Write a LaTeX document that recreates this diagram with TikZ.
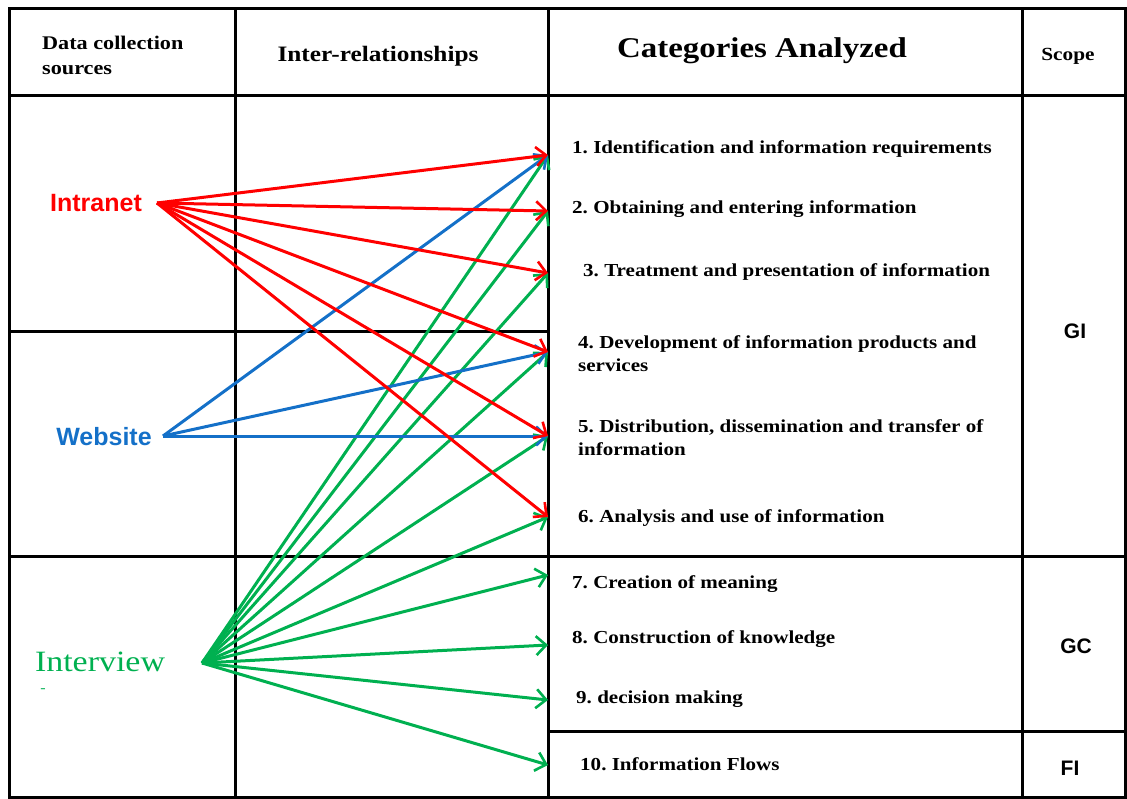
\documentclass[tikz,border=0pt]{standalone}
\usepackage{fontspec}
\setmainfont{Liberation Serif}[FakeStretch=1.15]
\newfontfamily\arialfont{Liberation Sans}
\usetikzlibrary{positioning,arrows.meta}

\definecolor{intrared}{RGB}{255,0,0}
\definecolor{webblue}{RGB}{20,112,200}
\definecolor{intgreen}{RGB}{0,176,80}

\begin{document}
\frenchspacing
\begin{tikzpicture}[x=1pt,y=-1pt,
    grid/.style={line width=3pt, black},
    flow/.style={line width=3pt, -{Straight Barb[length=10pt,width=19pt,line width=2.6pt]}},
    head/.style={font=\bfseries\fontsize{18}{20}\selectfont, inner sep=0pt},
    cat/.style={anchor=west, align=left, inner sep=0pt, font=\bfseries\fontsize{18.3}{23}\selectfont},
    src/.style={font=\arialfont\bfseries\fontsize{25}{27}\selectfont, inner sep=0pt},
    scope/.style={font=\arialfont\bfseries\fontsize{21}{23}\selectfont, inner sep=0pt}]
\useasboundingbox (0,0) rectangle (1127,799);

% table lines
\draw[grid] (9,9) rectangle (1125,797);
\draw[grid] (235,9) -- (235,797);
\draw[grid] (548,9) -- (548,797);
\draw[grid] (1022,9) -- (1022,797);
\draw[grid] (9,96) -- (1125,96);
\draw[grid] (9,332) -- (548,332);
\draw[grid] (9,556) -- (1125,556);
\draw[grid] (548,731) -- (1125,731);

% header
\node[head, anchor=west, align=left, font=\bfseries\fontsize{19.3}{25}\selectfont] (hsrc) at (42,55) {Data collection\\sources};
\node[head, font=\bfseries\fontsize{22}{24}\selectfont] (hrel) at (378,56) {Inter-relationships};
\node[head, font=\bfseries\fontsize{28.6}{30}\selectfont] (hcat) at (762,51) {Categories Analyzed};
\node[head, font=\bfseries\fontsize{18.5}{20}\selectfont] (hscope) at (1068,56) {Scope};

% sources
\node[src, text=intrared] (intranet) at (96,203) {Intranet};
\node[src, text=webblue] (website) at (104,437) {Website};
\node[inner sep=0pt, text=intgreen, font=\fontsize{29.5}{31}\selectfont] (interview) at (100,662) {Interview};
\node[inner sep=0pt, text=intgreen, font=\fontsize{14}{16}\selectfont] (dash) at (43,691) {-};
\coordinate (pin) at (157,203);
\coordinate (pweb) at (163,436);
\coordinate (pint) at (202,663);

% categories
\node[cat] (c1) at (572,149) {1. Identification and information requirements};
\node[cat] (c2) at (572,209) {2. Obtaining and entering information};
\node[cat] (c3) at (583,272) {3. Treatment and presentation of information};
\node[cat] (c4) at (578,354) {4. Development of information products and\\services};
\node[cat] (c5) at (578,438) {5. Distribution, dissemination and transfer of\\information};
\node[cat] (c6) at (578,518) {6. Analysis and use of information};
\node[cat] (c7) at (572,584) {7. Creation of meaning};
\node[cat] (c8) at (572,639) {8. Construction of knowledge};
\node[cat] (c9) at (576,699) {9. decision making};
\node[cat] (c10) at (580,764) {10. Information Flows};

% scope
\node[scope] (gi) at (1075,331) {GI};
\node[scope] (gc) at (1076,646) {GC};
\node[scope] (fi) at (1070,768) {FI};

% arrow ends on the category border
\coordinate (t1) at (548,155);
\coordinate (t2) at (548,211);
\coordinate (t3) at (548,273);
\coordinate (t4) at (548,352);
\coordinate (t5) at (548,436);
\coordinate (t6) at (548,517);
\coordinate (t7) at (548,575);
\coordinate (t8) at (548,645);
\coordinate (t9) at (548,700);
\coordinate (t10) at (548,765);

\foreach \t in {1,...,10}
  \draw[flow, intgreen] (pint) -- (t\t);
\foreach \t in {1,4,5}
  \draw[flow, webblue] (pweb) -- (t\t);
\foreach \t in {1,...,6}
  \draw[flow, intrared] (pin) -- (t\t);
\end{tikzpicture}
\end{document}
